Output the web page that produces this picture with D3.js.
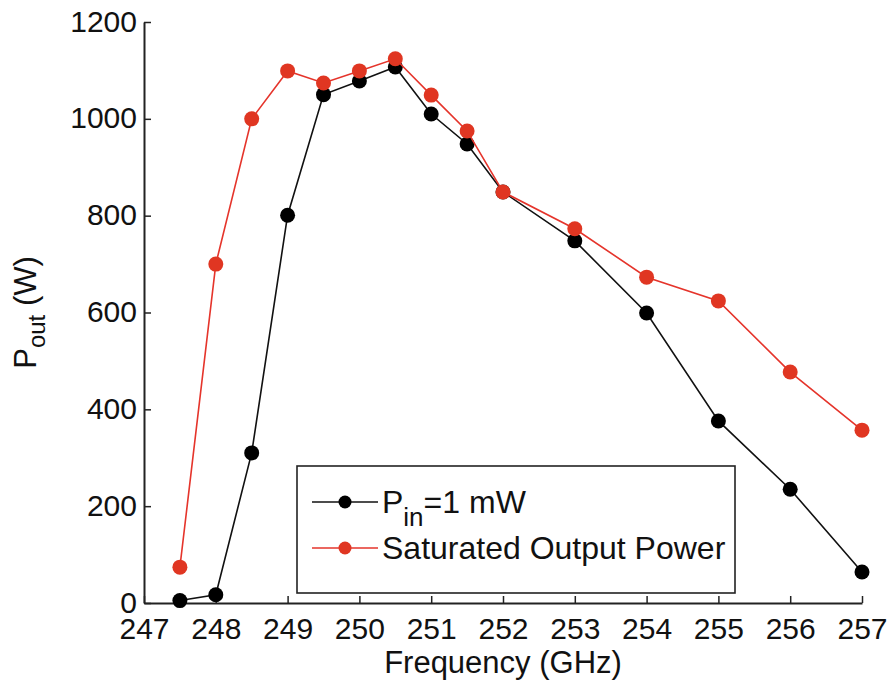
<!DOCTYPE html>
<html>
<head>
<meta charset="utf-8">
<script src="https://cdn.jsdelivr.net/npm/d3@7"></script>
<style>
  body { margin: 0; background: #fff; }
  svg text { font-family: "Liberation Sans", Arial, sans-serif; fill: #111; }
</style>
</head>
<body>
<div id="container"></div>
<script>
// frequency points (GHz)
var freq = [247.5, 248, 248.5, 249, 249.5, 250, 250.5, 251, 251.5, 252, 253, 254, 255, 256, 257];
// Pin = 1 mW
var pin1mW = [5, 17, 310, 801, 1050, 1078, 1107, 1010, 948, 849, 748, 599, 376, 235, 64];
// saturated output power
var satPower = [74, 700, 1000, 1099, 1074, 1099, 1124, 1049, 975, 849, 773, 673, 624, 477, 357];
var xTicks = [247, 248, 249, 250, 251, 252, 253, 254, 255, 256, 257];
var yTicks = [0, 200, 400, 600, 800, 1000, 1200];

var width = 893, height = 686;
var margin = {left: 144, right: 31, top: 22, bottom: 83};

var svg = d3.select("#container").append("svg")
    .attr("width", width).attr("height", height);

var x = d3.scaleLinear().domain([247, 257]).range([margin.left, width - margin.right]);
var y = d3.scaleLinear().domain([0, 1200]).range([height - margin.bottom, margin.top]);

// axes (ticks inward, like matlab)
var xAxis = svg.append("g")
    .attr("transform", "translate(0," + y(0) + ")")
    .call(d3.axisBottom(x).tickValues(xTicks).tickFormat(d3.format("d"))
      .tickSizeInner(-7).tickSizeOuter(0).tickPadding(15));
var yAxis = svg.append("g")
    .attr("transform", "translate(" + x(247) + ",0)")
    .call(d3.axisLeft(y).tickValues(yTicks).tickFormat(d3.format("d"))
      .tickSizeInner(-7).tickSizeOuter(0).tickPadding(7));

[xAxis, yAxis].forEach(function(a) {
  a.select(".domain").attr("stroke", "#222").attr("stroke-width", 2);
  a.selectAll(".tick line").attr("stroke", "#222").attr("stroke-width", 1.5);
  a.selectAll(".tick text").attr("font-size", 30).attr("fill", "#111")
    .style("font-family", "'Liberation Sans', Arial, sans-serif");
});
xAxis.selectAll(".tick text").attr("dy", "0.71em");
yAxis.selectAll(".tick text").attr("dy", "0.3em");

// axis labels
svg.append("text")
    .attr("x", (x(247) + x(257)) / 2)
    .attr("y", 673)
    .attr("text-anchor", "middle")
    .attr("font-size", 31)
    .text("Frequency (GHz)");

var ylab = svg.append("text")
    .attr("transform", "translate(36," + y(600) + ") rotate(-90)")
    .attr("text-anchor", "middle")
    .attr("font-size", 31);
ylab.append("tspan").text("P");
ylab.append("tspan").attr("font-size", 24).attr("dy", 9).text("out");
ylab.append("tspan").attr("dy", -9).text(" (W)");

var line = d3.line().x(function(d) { return x(d[0]); }).y(function(d) { return y(d[1]); });

var series = [
  {name: "pin", values: pin1mW, line: "#111", dot: "#000"},
  {name: "sat", values: satPower, line: "#e5342b", dot: "#e03622"}
];

series.forEach(function(s) {
  var pts = d3.zip(freq, s.values);
  svg.append("path")
      .datum(pts)
      .attr("fill", "none")
      .attr("stroke", s.line)
      .attr("stroke-width", 1.6)
      .attr("d", line);
  svg.selectAll("circle." + s.name)
      .data(pts)
      .enter()
      .append("circle")
      .attr("class", s.name)
      .attr("cx", function(d) { return x(d[0]); })
      .attr("cy", function(d) { return y(d[1]); })
      .attr("r", 7.5)
      .attr("fill", s.dot);
});

// legend
var lg = svg.append("g").attr("transform", "translate(297,466)");
lg.append("rect")
    .attr("width", 438).attr("height", 127)
    .attr("fill", "#fff").attr("stroke", "#222").attr("stroke-width", 1.6);

var rows = [{y: 36, s: series[0]}, {y: 82, s: series[1]}];
rows.forEach(function(r) {
  lg.append("line").attr("x1", 15).attr("x2", 81).attr("y1", r.y).attr("y2", r.y)
    .attr("stroke", r.s.line).attr("stroke-width", 1.6);
  lg.append("circle").attr("cx", 48).attr("cy", r.y).attr("r", 6.5).attr("fill", r.s.dot);
});

var t1 = lg.append("text").attr("x", 85).attr("y", 47).attr("font-size", 32);
t1.append("tspan").text("P");
t1.append("tspan").attr("font-size", 26).attr("dy", 13).text("in");
t1.append("tspan").attr("dy", -13).text("=1 mW");

lg.append("text").attr("x", 85).attr("y", 93).attr("font-size", 32).text("Saturated Output Power");
</script>
</body>
</html>
